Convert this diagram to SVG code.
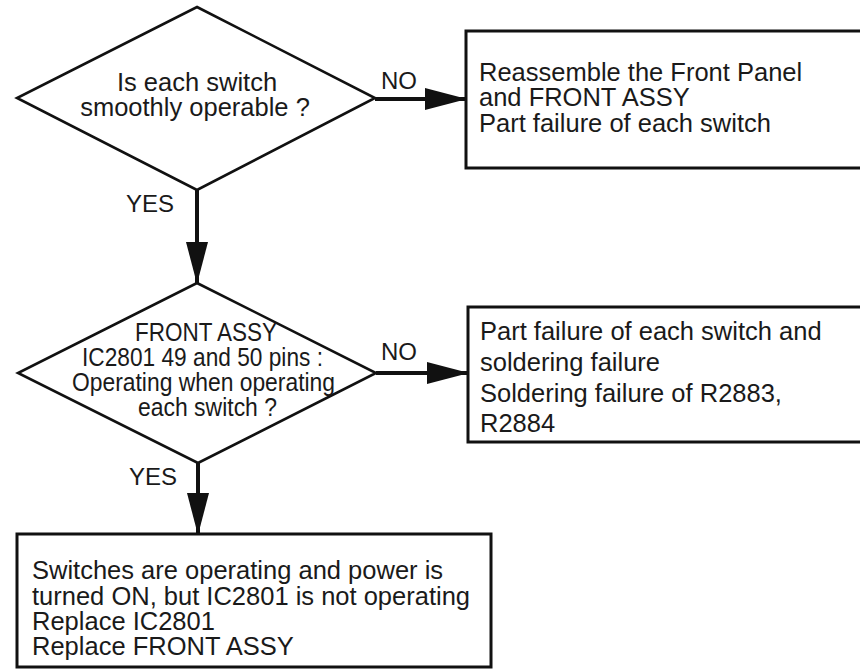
<svg xmlns="http://www.w3.org/2000/svg" width="860" height="670" viewBox="0 0 860 670">
  <style>
    .shape { fill: #ffffff; stroke: #111111; stroke-width: 3; }
    .dia { fill: #ffffff; stroke: #111111; stroke-width: 2.6; stroke-linejoin: miter; }
    .txt { font-family: "Liberation Sans", Arial, sans-serif; font-size: 25.5px; fill: #1a1a1a; }
    .lbl { font-family: "Liberation Sans", Arial, sans-serif; font-size: 24px; fill: #1a1a1a; }
    .conn { stroke: #111111; stroke-width: 4; fill: none; }
  </style>
  <defs>
    <marker id="arrow" markerUnits="userSpaceOnUse" markerWidth="42" markerHeight="22" refX="41" refY="11" orient="auto">
      <path d="M0,0 L42,11 L0,22 z" fill="#111111"/>
    </marker>
  </defs>
  <rect width="860" height="670" fill="#ffffff"/>

  <g id="connectors">
    <line class="conn" x1="375" y1="99" x2="466" y2="99" marker-end="url(#arrow)"/>
    <line class="conn" x1="197" y1="190" x2="197" y2="283" marker-end="url(#arrow)"/>
    <line class="conn" x1="376" y1="373" x2="468" y2="373" marker-end="url(#arrow)"/>
    <line class="conn" x1="198" y1="463" x2="198" y2="534" marker-end="url(#arrow)"/>
    <text class="lbl" x="381" y="89">NO</text>
    <text class="lbl" x="126" y="212">YES</text>
    <text class="lbl" x="381" y="360">NO</text>
    <text class="lbl" x="129" y="485">YES</text>
  </g>

  <g id="decision1">
    <polygon class="dia" points="197,7 375,98 197,190 17,98"/>
    <text class="txt" x="197" y="91" text-anchor="middle">Is each switch</text>
    <text class="txt" x="195" y="116" text-anchor="middle">smoothly operable ?</text>
  </g>

  <g id="result1">
    <rect class="shape" x="466" y="31" width="410" height="137"/>
    <text class="txt" x="479" y="81">Reassemble the Front Panel</text>
    <text class="txt" x="479" y="106">and FRONT ASSY</text>
    <text class="txt" x="479" y="132">Part failure of each switch</text>
  </g>

  <g id="decision2">
    <polygon class="dia" points="197,283 376,373 198,463 18,373"/>
    <text class="txt" x="135" y="341" textLength="142" lengthAdjust="spacingAndGlyphs">FRONT ASSY</text>
    <text class="txt" x="82" y="366" textLength="241" lengthAdjust="spacingAndGlyphs">IC2801 49 and 50 pins :</text>
    <text class="txt" x="72" y="391" textLength="263" lengthAdjust="spacingAndGlyphs">Operating when operating</text>
    <text class="txt" x="138" y="416" textLength="139" lengthAdjust="spacingAndGlyphs">each switch ?</text>
  </g>

  <g id="result2">
    <rect class="shape" x="468" y="307" width="410" height="135"/>
    <text class="txt" x="480" y="340">Part failure of each switch and</text>
    <text class="txt" x="480" y="371">soldering failure</text>
    <text class="txt" x="480" y="402">Soldering failure of R2883,</text>
    <text class="txt" x="480" y="432">R2884</text>
  </g>

  <g id="result3">
    <rect class="shape" x="17" y="534" width="474" height="133"/>
    <text class="txt" x="32" y="579">Switches are operating and power is</text>
    <text class="txt" x="32" y="605">turned ON, but IC2801 is not operating</text>
    <text class="txt" x="32" y="630">Replace IC2801</text>
    <text class="txt" x="32" y="655">Replace FRONT ASSY</text>
  </g>
</svg>
